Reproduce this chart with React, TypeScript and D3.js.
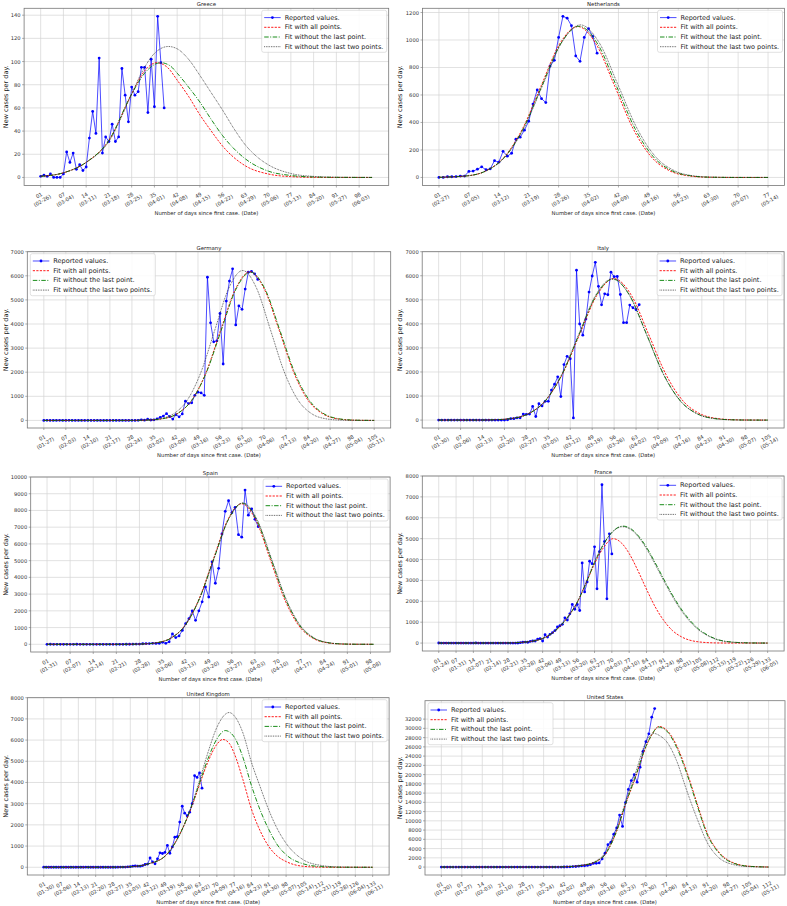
import React from 'react';
import * as d3 from 'd3';

type Pt = [number, number];

// ---- Greece ----
const greeceReported = [1, 2, 1, 3, 0, 0, 0, 3, 22, 13, 21, 7, 11, 6, 9, 34, 57, 38, 103, 21, 35, 31, 46, 31, 35, 94, 71, 48, 78, 71, 74, 95, 95, 56, 102, 61, 139, 99, 60];
const greeceFitAll: Pt[] = [[0, 1], [7, 4], [14, 13], [21, 32], [28, 72], [32, 92], [35.7, 99], [39, 95], [42, 84], [45.5, 70], [49, 54], [52.5, 40], [56, 27], [63, 10], [70, 3], [77, 0.7], [84, 0.1], [91, 0], [102, 0]];
const greeceFitNoLast: Pt[] = [[0, 1], [7, 4], [14, 13], [21, 32], [28, 72], [32, 90], [37, 99], [40, 96], [42, 90], [45.5, 78], [49, 65], [52.5, 50], [56, 36], [63, 16], [70, 5.5], [77, 1.7], [84, 0.4], [91, 0.1], [102, 0]];
const greeceFitNoLast2: Pt[] = [[0, 1], [7, 4], [14, 13], [21, 31], [28, 72], [31, 90], [35, 107], [39.3, 113], [42, 111], [45.5, 102], [49, 88], [52.5, 73], [56, 58], [59.5, 42], [63, 28], [66.5, 18], [70, 11], [77, 3.4], [84, 0.9], [91, 0.2], [102, 0]];
const greeceDates = ['02-26', '03-04', '03-11', '03-18', '03-25', '04-01', '04-08', '04-15', '04-22', '04-29', '05-06', '05-13', '05-20', '05-27', '06-03'];
const greeceYTicks = [0, 20, 40, 60, 80, 100, 120, 140];

// ---- Netherlands ----
const nlReported = [0, 0, 5, 5, 6, 10, 10, 44, 46, 60, 77, 56, 63, 122, 111, 190, 155, 176, 278, 293, 344, 409, 534, 637, 573, 545, 811, 852, 1019, 1172, 1159, 1104, 884, 845, 1019, 1083, 1026, 904];
const nlFitAll: Pt[] = [[0, 1], [6.7, 12], [11, 48], [15.3, 149], [19.6, 357], [23.9, 666], [28.2, 969], [32.5, 1098], [36.8, 969], [41.1, 666], [45.4, 357], [49.7, 149], [54, 48], [58.3, 12], [62.6, 2], [70, 0], [77, 0]];
const nlFitNoLast: Pt[] = [[0, 1], [6.7, 12], [11.05, 48], [15.4, 149], [19.75, 357], [24.1, 667], [28.45, 971], [32.8, 1100], [37.15, 971], [41.5, 667], [45.85, 357], [50.2, 149], [54.55, 48], [58.9, 12], [63.25, 2], [70, 0], [77, 0]];
const nlFitNoLast2: Pt[] = [[0, 1], [6.7, 12], [11.1, 49], [15.5, 150], [19.9, 360], [24.3, 673], [28.7, 980], [33.1, 1110], [37.5, 980], [41.9, 673], [46.3, 360], [50.7, 150], [55.1, 49], [59.5, 12], [63.9, 2], [70, 0], [77, 0]];
const nlDates = ['02-27', '03-05', '03-12', '03-19', '03-26', '04-02', '04-09', '04-16', '04-23', '04-30', '05-07', '05-14'];
const nlYTicks = [0, 200, 400, 600, 800, 1000, 1200];

// ---- Germany ----
const deReported = [1, 3, 0, 0, 0, 2, 1, 0, 3, 0, 0, 0, 0, 0, 0, 1, 0, 0, 0, 0, 0, 0, 0, 0, 0, 0, 0, 0, 0, 0, 5, 26, 10, 53, 18, 26, 60,
  130, 180, 280, 160, 55, 240, 150, 270, 800, 700, 730, 1040, 1170, 1140, 1040, 5940, 4050, 3260, 3300, 4440, 2340, 4950, 5780, 6290, 3960, 4750, 4610, 5450, 6150, 6180, 6080, 5850];
const deFitAll: Pt[] = [[0, 0], [28.4, 2], [33.1, 14], [37.7, 68], [42.3, 271], [47, 835], [51.6, 2003], [56.2, 3742], [60.9, 5445], [65.5, 6170], [70.1, 5445], [74.8, 3742], [79.4, 2003], [84, 835], [88.7, 271], [93.3, 68], [97.9, 14], [102.6, 2], [105, 0]];
const deFitNoLast: Pt[] = [[0, 0], [28.3, 2], [33, 14], [37.65, 68], [42.3, 270], [47, 832], [51.7, 1997], [56.35, 3730], [61, 5427], [65.7, 6150], [70.4, 5427], [75.05, 3730], [79.7, 1997], [84.4, 832], [89.1, 270], [93.75, 68], [98.4, 14], [103, 2], [105, 0]];
const deFitNoLast2: Pt[] = [[0, 0], [28, 2], [32.4, 14], [36.8, 69], [41.2, 273], [45.6, 842], [50, 2020], [54.4, 3772], [58.8, 5489], [63.2, 6220], [67.6, 5489], [72, 3772], [76.4, 2020], [80.8, 842], [85.2, 273], [89.6, 69], [94, 14], [98.4, 2], [105, 0]];
const deDates = ['01-27', '02-03', '02-10', '02-17', '02-24', '03-02', '03-09', '03-16', '03-23', '03-30', '04-06', '04-13', '04-20', '04-27', '05-04', '05-11'];
const deYTicks = [0, 1000, 2000, 3000, 4000, 5000, 6000, 7000];

// ---- Italy ----
const itReported = [2, 0, 0, 0, 0, 0, 0, 1, 0, 0, 0, 0, 0, 0, 0, 0, 0, 0, 0, 0, 0, 0,
  15, 60, 60, 95, 95, 250, 240, 250, 570, 150, 680, 590, 780, 780, 1250, 1490, 1800, 980, 2310, 2650, 2550, 90, 6230, 4000, 3530, 4200, 5320, 5990, 6560, 5560, 4790, 5250, 5210, 6150, 5960, 5970, 5220, 4050, 4050, 4780, 4670, 4590, 4800];
const itFitAll: Pt[] = [[0, 0], [12, 1], [17.5, 13], [23, 65], [28.5, 258], [34, 796], [39.5, 1909], [45, 3566], [50.5, 5189], [56, 5880], [61.5, 5189], [67, 3566], [72.5, 1909], [78, 796], [83.5, 258], [89, 65], [94.5, 13], [100, 2], [105, 0]];
const itFitNoLast: Pt[] = [[0, 0], [12.4, 1], [17.8, 13], [23.2, 65], [28.6, 257], [34, 793], [39.4, 1903], [44.8, 3554], [50.2, 5171], [55.6, 5860], [61, 5171], [66.4, 3554], [71.8, 1903], [77.2, 793], [82.6, 257], [88, 65], [93.4, 13], [98.8, 2], [105, 0]];
const itFitNoLast2: Pt[] = [[0, 0], [12.3, 1], [17.7, 13], [23.1, 65], [28.5, 258], [33.9, 796], [39.3, 1909], [44.7, 3566], [50.1, 5189], [55.5, 5880], [60.9, 5189], [66.3, 3566], [71.7, 1909], [77.1, 796], [82.5, 258], [87.9, 65], [93.3, 13], [98.7, 2], [105, 0]];
const itDates = ['01-30', '02-06', '02-13', '02-20', '02-27', '03-05', '03-12', '03-19', '03-26', '04-02', '04-09', '04-16', '04-23', '04-30', '05-07', '05-14'];
const itYTicks = [0, 1000, 2000, 3000, 4000, 5000, 6000, 7000];

// ---- Spain ----
const esReported = [0, 1, 0, 0, 0, 0, 0, 0, 0, 1, 0, 0, 0, 0, 0, 0, 0, 0, 0, 0, 0, 0, 0, 0, 1, 2, 6, 13, 15, 32, 45, 40, 60, 50,
  60, 120, 60, 150, 620, 400, 500, 830, 1230, 1530, 2000, 1430, 2000, 2540, 3430, 2820, 4930, 3650, 4540, 6600, 7950, 8580, 7870, 8190, 6550, 6400, 9220, 7720, 8100, 7470, 7030];
const esFitAll: Pt[] = [[0, 0], [20.3, 0], [24.6, 3], [28.9, 18], [33.2, 93], [37.5, 369], [41.8, 1137], [46.1, 2727], [50.4, 5095], [54.7, 7413], [59, 8400], [63.3, 7413], [67.6, 5095], [71.9, 2727], [76.2, 1137], [80.5, 369], [84.8, 93], [89.1, 18], [93.4, 3], [99, 0]];
const esFitNoLast: Pt[] = [[0, 0], [20.3, 0], [24.6, 3], [28.9, 19], [33.25, 94], [37.6, 370], [41.9, 1141], [46.2, 2737], [50.55, 5113], [54.9, 7439], [59.2, 8430], [63.5, 7439], [67.85, 5113], [72.2, 2737], [76.5, 1141], [80.8, 370], [85.15, 94], [89.5, 19], [93.8, 3], [99, 0]];
const esFitNoLast2: Pt[] = [[0, 0], [20.1, 0], [24.5, 3], [28.85, 19], [33.2, 94], [37.55, 371], [41.9, 1143], [46.25, 2744], [50.6, 5125], [54.95, 7457], [59.3, 8450], [63.65, 7457], [68, 5125], [72.35, 2744], [76.7, 1143], [81.05, 371], [85.4, 94], [89.75, 19], [94.1, 3], [99, 0]];
const esDates = ['01-31', '02-07', '02-14', '02-21', '02-28', '03-06', '03-13', '03-20', '03-27', '04-03', '04-10', '04-17', '04-24', '05-01', '05-08'];
const esYTicks = [0, 1000, 2000, 3000, 4000, 5000, 6000, 7000, 8000, 9000, 10000];

// ---- France ----
const frReported = [3, 0, 0, 0, 0, 1, 1, 0, 0, 0, 0, 0, 0, 0, 0, 5, 1, 0, 0, 0, 0, 0, 0, 1, 0, 0, 0, 0, 0, 0, 0, 2, 4,
  20, 40, 50, 40, 80, 100, 100, 190, 210, 100, 400, 290, 420, 500, 600, 780, 830, 900, 1210, 1100, 1400, 1850, 1620, 1850, 1560, 3840, 2450, 2930, 3920, 3800, 4610, 2600, 4380, 7580, 4860, 2120, 5230, 4270];
const frFitAll: Pt[] = [[0, 0], [28, 8], [35, 50], [42, 220], [49, 800], [52.5, 1300], [56, 1950], [59.5, 2850], [63, 3800], [66.5, 4550], [70.5, 5000], [74, 4780], [77, 4290], [80.5, 3480], [84, 2580], [87.5, 1740], [91, 1080], [94.5, 600], [98, 310], [105, 60], [112, 8], [119, 1], [133, 0]];
const frFitNoLast: Pt[] = [[0, 0], [28, 8], [35, 50], [42, 220], [49, 800], [52.5, 1300], [56, 1950], [59.5, 2850], [63, 3850], [66.5, 4700], [70, 5300], [74.5, 5600], [78, 5450], [81.5, 5020], [84, 4590], [87.5, 3850], [91, 3060], [94.5, 2300], [98, 1640], [101.5, 1100], [105, 680], [108.5, 400], [112, 200], [119, 45], [126, 8], [133, 1]];
const frFitNoLast2: Pt[] = [[0, 0], [28, 8], [35, 50], [42, 220], [49, 800], [52.5, 1300], [56, 1960], [59.5, 2880], [63, 3900], [66.5, 4720], [70, 5290], [74.2, 5570], [78, 5410], [81.5, 4960], [84, 4520], [87.5, 3770], [91, 2980], [94.5, 2230], [98, 1570], [101.5, 1040], [105, 640], [108.5, 370], [112, 185], [119, 40], [126, 7], [133, 1]];
const frDates = ['01-24', '01-31', '02-07', '02-14', '02-21', '02-28', '03-06', '03-13', '03-20', '03-27', '04-03', '04-10', '04-17', '04-24', '05-01', '05-08', '05-15', '05-22', '05-29', '06-05'];
const frYTicks = [0, 1000, 2000, 3000, 4000, 5000, 6000, 7000, 8000];

// ---- United Kingdom ----
const ukReported = [2, 0, 0, 0, 0, 0, 0, 0, 0, 1, 0, 0, 0, 0, 0, 0, 0, 4, 0, 0, 0, 0, 0, 0, 0, 0, 0, 0, 0, 0, 3, 8, 10,
  10, 20, 30, 50, 60, 50, 50, 80, 130, 150, 440, 250, 160, 400, 680, 650, 700, 1030, 660, 960, 1420, 1440, 2130, 2880, 2550, 2430, 2600, 3000, 4320, 4240, 4450, 3730];
const ukFitAll: Pt[] = [[0, 0], [28, 3], [35, 25], [42, 150], [49, 520], [56, 1800], [59.5, 2750], [63, 3900], [66.5, 5000], [70, 5800], [72.4, 6030], [75, 5850], [77, 5380], [80.5, 4150], [84, 2740], [87.5, 1720], [91, 980], [94.5, 520], [98, 270], [105, 45], [112, 5], [119, 0], [133, 0]];
const ukFitNoLast: Pt[] = [[0, 0], [28, 3], [35, 25], [42, 150], [49, 520], [56, 1800], [59.5, 2800], [63, 3980], [66.5, 5150], [70, 6050], [73.4, 6450], [77, 6150], [80.5, 5200], [84, 3850], [87.5, 2700], [91, 1780], [94.5, 1050], [98, 590], [105, 160], [112, 32], [119, 5], [133, 0]];
const ukFitNoLast2: Pt[] = [[0, 0], [28, 3], [35, 25], [42, 150], [49, 520], [56, 1780], [59.5, 2800], [63, 4100], [66.5, 5450], [70, 6600], [75, 7300], [77, 7150], [80.5, 6350], [84, 4950], [87.5, 3800], [91, 2700], [94.5, 1800], [98, 1130], [105, 350], [112, 90], [119, 15], [126, 2], [133, 0]];
const ukDates = ['01-30', '02-06', '02-13', '02-20', '02-27', '03-05', '03-12', '03-19', '03-26', '04-02', '04-09', '04-16', '04-23', '04-30', '05-07', '05-14', '05-21', '05-28', '06-04', '06-11'];
const ukYTicks = [0, 1000, 2000, 3000, 4000, 5000, 6000, 7000, 8000];

// ---- United States ----
const usReported = [1, 0, 0, 0, 0, 1, 0, 0, 0, 0, 1, 2, 1, 0, 0, 1, 1, 0, 0, 0, 0, 1, 0, 0, 0, 0, 1, 0, 0, 0, 0, 0, 0, 0, 0, 0, 0, 0, 3, 5,
  10, 10, 20, 30, 50, 110, 120, 200, 270, 290, 350, 510, 780, 820, 890, 1770, 2990, 4840, 5370, 7120, 8460, 11240, 8790, 13960, 16800, 18700, 19980, 18360, 21600, 25000, 27100, 28820, 32430, 34270];
const usFitAll: Pt[] = [[0, 0], [35, 0], [42, 60], [49, 450], [53, 1200], [56, 2700], [60, 7800], [63, 13500], [66.5, 19500], [70, 26000], [72, 28600], [74.5, 30400], [77, 29700], [80.5, 26300], [84, 20600], [87.5, 13800], [91, 7300], [94.5, 3600], [98, 1550], [105, 200], [112, 10]];
const usFitNoLast: Pt[] = [[0, 0], [35, 0], [42, 60], [49, 450], [53, 1200], [56, 2700], [60, 7800], [63, 13600], [66.5, 19700], [70, 26100], [72, 28600], [74.2, 30300], [77, 29500], [80.5, 25900], [84, 20200], [87.5, 13400], [91, 7000], [94.5, 3400], [98, 1400], [105, 180], [112, 8]];
const usFitNoLast2: Pt[] = [[0, 0], [35, 0], [42, 70], [49, 500], [53, 1350], [56, 3000], [60, 8300], [63, 14000], [66.5, 20500], [70, 27000], [72.7, 28900], [75, 28300], [77, 27200], [80.5, 23000], [84, 16500], [87.5, 10500], [91, 5300], [94.5, 2300], [98, 900], [105, 100], [112, 5]];
const usDates = ['01-20', '01-27', '02-03', '02-10', '02-17', '02-24', '03-02', '03-09', '03-16', '03-23', '03-30', '04-06', '04-13', '04-20', '04-27', '05-04', '05-11'];
const usYTicks = [0, 2000, 4000, 6000, 8000, 10000, 12000, 14000, 16000, 18000, 20000, 22000, 24000, 26000, 28000, 30000, 32000];

const legendLabels = ['Reported values.', 'Fit with all points.', 'Fit without the last point.', 'Fit without the last two points.'];

const FONT = 'DejaVu Sans, sans-serif';

const panels = [
  { name: 'Greece', reported: greeceReported, fits: [greeceFitAll, greeceFitNoLast, greeceFitNoLast2], dates: greeceDates, yTicks: greeceYTicks, box: { l: 24.1, r: 388.7, t: 8.3, b: 185.5 }, legend: 'right', ylabelX: 5.5 },
  { name: 'Netherlands', reported: nlReported, fits: [nlFitAll, nlFitNoLast, nlFitNoLast2], dates: nlDates, yTicks: nlYTicks, box: { l: 422.5, r: 784.5, t: 8.3, b: 185.5 }, legend: 'right', ylabelX: 399.5 },
  { name: 'Germany', reported: deReported, fits: [deFitAll, deFitNoLast, deFitNoLast2], dates: deDates, yTicks: deYTicks, box: { l: 27.3, r: 390.7, t: 251.7, b: 428 }, legend: 'left', ylabelX: 5.5 },
  { name: 'Italy', reported: itReported, fits: [itFitAll, itFitNoLast, itFitNoLast2], dates: itDates, yTicks: itYTicks, box: { l: 422.2, r: 784.1, t: 251.7, b: 428 }, legend: 'right', ylabelX: 399.5 },
  { name: 'Spain', reported: esReported, fits: [esFitAll, esFitNoLast, esFitNoLast2], dates: esDates, yTicks: esYTicks, box: { l: 30.7, r: 390.1, t: 477, b: 652 }, legend: 'right', ylabelX: 5.5 },
  { name: 'France', reported: frReported, fits: [frFitAll, frFitNoLast, frFitNoLast2], dates: frDates, yTicks: frYTicks, box: { l: 422.3, r: 784.1, t: 476, b: 651 }, legend: 'right', ylabelX: 399.5 },
  { name: 'United Kingdom', reported: ukReported, fits: [ukFitAll, ukFitNoLast, ukFitNoLast2], dates: ukDates, yTicks: ukYTicks, box: { l: 27.3, r: 389.1, t: 697.7, b: 875 }, legend: 'right', ylabelX: 5.5 },
  { name: 'United States', reported: usReported, fits: [usFitAll, usFitNoLast, usFitNoLast2], dates: usDates, yTicks: usYTicks, box: { l: 425, r: 785, t: 700.7, b: 875 }, legend: 'left', ylabelX: 399.5 },
];

// red dashed, green dash-dot, black dotted
const fitStyles = [
  { stroke: '#ff0000', dash: '2.2,1.3', width: 0.9 },
  { stroke: '#008000', dash: '4.5,1.5,1,1.5', width: 0.9 },
  { stroke: '#222222', dash: '0.8,0.9', width: 0.8 },
];

const dayLabel = (d: number) => (d === 0 ? '01' : String(d).padStart(2, '0'));

const Panel = ({ p }: { p: typeof panels[number] }) => {
  const { l, r, t, b } = p.box;
  const xEnd = d3.max(p.fits[0], d => d[0]) as number;
  const x = d3.scaleLinear().domain([-0.05 * xEnd, 1.05 * xEnd]).range([l, r]);
  const M = Math.max(d3.max(p.reported) as number, ...p.fits.map(f => d3.max(f, d => d[1]) as number));
  const yTop = Math.max(1.05 * M, p.yTicks[p.yTicks.length - 1]);
  const y = d3.scaleLinear().domain([-0.05 * M, yTop]).range([b, t]);

  const rep: Pt[] = p.reported.map((v, i) => [i, v]);
  const line = d3.line<Pt>().x(d => x(d[0])).y(d => y(d[1]));
  const fitLine = d3.line<Pt>().x(d => x(d[0])).y(d => y(d[1])).curve(d3.curveMonotoneX);
  const xTicks = p.dates.map((_, i) => i * 7);

  const lw = 125, lh = 42;
  const lx = p.legend === 'right' ? r - 2 - lw : l + 3;
  const ly = t + 2;

  return (
    <g fontFamily={FONT}>
      {/* grid */}
      {xTicks.map(d => (
        <line key={'gx' + d} x1={x(d)} x2={x(d)} y1={t} y2={b} stroke="#d4d4d4" strokeWidth={0.7} />
      ))}
      {p.yTicks.map(v => (
        <line key={'gy' + v} x1={l} x2={r} y1={y(v)} y2={y(v)} stroke="#d4d4d4" strokeWidth={0.7} />
      ))}

      {/* reported values */}
      <path d={line(rep) || ''} fill="none" stroke="#0000ff" strokeOpacity={0.7} strokeWidth={1} />
      {rep.map(d => (
        <circle key={'m' + d[0]} cx={x(d[0])} cy={y(d[1])} r={1.4} fill="#0000ff" />
      ))}

      {/* fits */}
      {p.fits.map((f, i) => (
        <path key={'f' + i} d={fitLine(f) || ''} fill="none" stroke={fitStyles[i].stroke}
          strokeWidth={fitStyles[i].width} strokeDasharray={fitStyles[i].dash} />
      ))}

      {/* frame */}
      <rect x={l} y={t} width={r - l} height={b - t} fill="none" stroke="#777" strokeWidth={0.8} />

      {/* y axis */}
      {p.yTicks.map(v => (
        <g key={'yt' + v}>
          <line x1={l - 2} x2={l} y1={y(v)} y2={y(v)} stroke="#777" strokeWidth={0.6} />
          <text x={l - 3.5} y={y(v)} textAnchor="end" dominantBaseline="central" fontSize={5.2} fill="#333">{v}</text>
        </g>
      ))}

      {/* x axis */}
      {xTicks.map((d, i) => (
        <g key={'xt' + d}>
          <line x1={x(d)} x2={x(d)} y1={b} y2={b + 2} stroke="#777" strokeWidth={0.6} />
          <g transform={`translate(${x(d)},${b + 12.5}) rotate(-30)`}>
            <text textAnchor="middle" fontSize={5.2} fill="#333">
              <tspan x={0} y={-1.2}>{dayLabel(d)}</tspan>
              <tspan x={0} y={5}>({p.dates[i]})</tspan>
            </text>
          </g>
        </g>
      ))}

      <text x={(l + r) / 2} y={t - 2} textAnchor="middle" fontSize={5.4} fill="#222">{p.name}</text>
      <text x={(l + r) / 2} y={b + 29} textAnchor="middle" fontSize={5.3} fill="#222">Number of days since first case. (Date)</text>
      <text transform={`translate(${p.ylabelX},${(t + b) / 2}) rotate(-90)`} textAnchor="middle" dominantBaseline="central" fontSize={6.5} fill="#222">New cases per day.</text>

      {/* legend */}
      <g transform={`translate(${lx},${ly})`}>
        <rect x={0} y={0} width={lw} height={lh} rx={2} fill="#fff" fillOpacity={0.85} stroke="#cccccc" strokeWidth={0.6} />
        {legendLabels.map((lab, i) => {
          const yy = 7.3 + i * 9.7;
          return (
            <g key={lab}>
              {i === 0 ? (
                <g>
                  <line x1={2.5} x2={19} y1={yy} y2={yy} stroke="#0000ff" strokeOpacity={0.7} strokeWidth={1} />
                  <circle cx={10.7} cy={yy} r={1.4} fill="#0000ff" />
                </g>
              ) : (
                <line x1={2.5} x2={19} y1={yy} y2={yy} stroke={fitStyles[i - 1].stroke}
                  strokeWidth={fitStyles[i - 1].width} strokeDasharray={fitStyles[i - 1].dash} />
              )}
              <text x={23} y={yy} dominantBaseline="central" fontSize={6.5} fill="#222">{lab}</text>
            </g>
          );
        })}
      </g>
    </g>
  );
};

export default function App() {
  return (
    <svg width={787} height={906} viewBox="0 0 787 906"
      style={{ position: 'absolute', left: 0, top: 0, background: '#fff' }}>
      <rect x={0} y={0} width={787} height={906} fill="#fff" />
      {panels.map(p => <Panel key={p.name} p={p} />)}
    </svg>
  );
}
